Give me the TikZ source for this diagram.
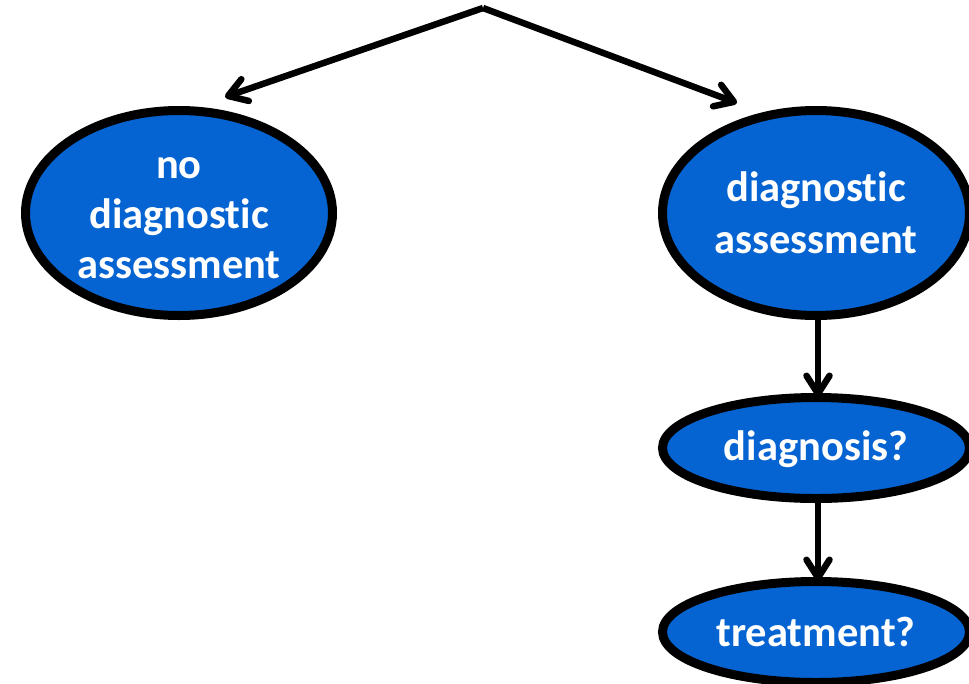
\documentclass[tikz,border=0pt]{standalone}
\usepackage{fontspec}
\setmainfont{Carlito}[Ligatures={NoCommon,NoRequired,NoContextual}]
\usetikzlibrary{shapes.geometric,arrows.meta}
\definecolor{nodeblue}{RGB}{5,100,210}
\tikzset{
  ell/.style={ellipse, draw=black, line width=9pt, fill=nodeblue,
    inner sep=0pt, minimum width=307pt},
  bigell/.style={ell, minimum height=205pt},
  smallell/.style={ell, minimum height=101pt},
  lab/.style={anchor=base, text=white, inner sep=0pt,
    font=\fontsize{42.5}{50}\selectfont\bfseries},
  conn/.style={line width=6.5pt, -{Straight Barb[length=18pt,width=23pt,line cap=round,line join=round]}}
}
\newcommand{\lines}[1]{\begin{tabular}[t]{@{}c@{}}#1\end{tabular}}
\begin{document}
\begin{tikzpicture}[x=1pt,y=-1pt]
\useasboundingbox (0,0) rectangle (969,683);
\clip (0,0) rectangle (969,683);
\node[bigell] (noda) at (179,213) {};
\node[bigell] (da) at (816,213) {};
\node[smallell] (dx) at (816,448) {};
\node[smallell] (tx) at (816,632) {};
\node[lab] (nodat) at (179,178) {\lines{no\\diagnostic\\assessment}};
\node[lab, font=\fontsize{42.5}{52}\selectfont\bfseries] (dat) at (816,201) {\lines{diagnostic\\assessment}};
\node[lab] (dxt) at (816,460) {diagnosis?};
\node[lab] (txt) at (816,646) {treatment?};
\coordinate (top) at (483,8);
\coordinate (tl) at (225,97);
\coordinate (tr) at (737,103);
\draw[conn] (top) -- (tl);
\draw[conn] (top) -- (tr);
\draw[conn] ([xshift=2pt]da.south) -- ([xshift=2pt,yshift=-4pt]dx.north);
\draw[conn] ([xshift=2pt]dx.south) -- ([xshift=2pt,yshift=-4pt]tx.north);
\end{tikzpicture}
\end{document}
